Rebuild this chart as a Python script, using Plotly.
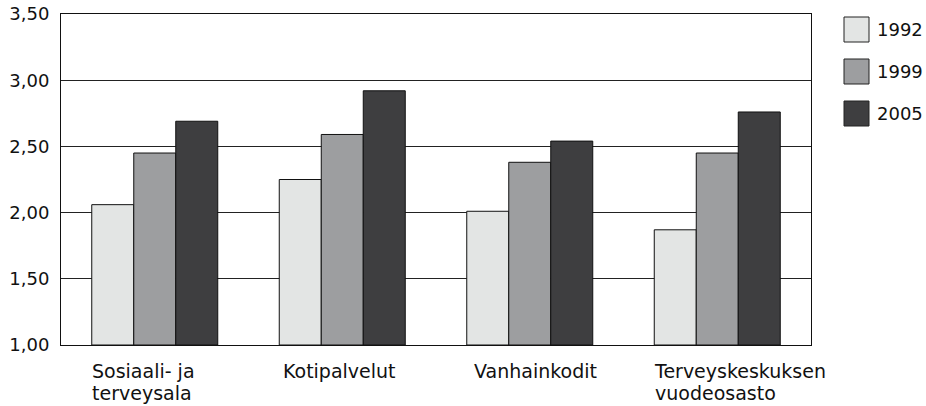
import plotly.graph_objects as go

# Categories, series and values
categories = ["Sosiaali- ja<br>terveysala", "Kotipalvelut", "Vanhainkodit", "Terveyskeskuksen<br>vuodeosasto"]
years = ["1992", "1999", "2005"]
values_1992 = [2.06, 2.25, 2.01, 1.87]
values_1999 = [2.45, 2.59, 2.38, 2.45]
values_2005 = [2.69, 2.92, 2.54, 2.76]
y_ticks = [1.0, 1.5, 2.0, 2.5, 3.0, 3.5]
y_tick_labels = ["1,00", "1,50", "2,00", "2,50", "3,00", "3,50"]

colors = ["#e3e5e4", "#9d9ea0", "#3e3e40"]
series = [values_1992, values_1999, values_2005]
font_family = "DejaVu Sans"
text_color = "#111111"
bargap = 0.328
# small horizontal pixel nudges for the category labels
label_nudges = [-2, 2, 5, -2]

fig = go.Figure()
x_idx = list(range(len(categories)))
for name, vals, col in zip(years, series, colors):
    fig.add_trace(go.Bar(
        x=x_idx, y=[v - 1.0 for v in vals], base=1.0, name=name,
        marker=dict(color=col, line=dict(color="#111111", width=1)),
        showlegend=False,
    ))

# Category labels, left-aligned under each bar group.
# The annotation font sets the (tighter) line spacing; the span sets glyph size.
group_half = (1 - bargap) / 2
for i, label in enumerate(categories):
    lines = label.split("<br>")
    text = "<br>".join(f"<span style='font-size:19px'>{ln}</span>" for ln in lines)
    fig.add_annotation(
        x=i - group_half, y=0, xref="x", yref="paper", yanchor="top",
        xanchor="left", align="left", text=text, showarrow=False,
        yshift=-13, xshift=label_nudges[i],
        font=dict(family=font_family, size=17.3, color=text_color),
    )

# Legend: large swatches with labels to the right of the plot
plot_w, plot_h = 750.0, 331.0
for k, (name, col) in enumerate(zip(years, colors)):
    y0 = 1 - (17 + 42 * k - 14) / plot_h
    y1 = y0 - 25 / plot_h
    fig.add_shape(type="rect", xref="paper", yref="paper",
                  x0=(844 - 61) / plot_w, x1=(869 - 61) / plot_w, y0=y1, y1=y0,
                  fillcolor=col, line=dict(color="#222222", width=1))
    fig.add_annotation(x=(875 - 61) / plot_w, y=(y0 + y1) / 2, xref="paper", yref="paper",
                       xanchor="left", yanchor="middle", text=name, showarrow=False,
                       font=dict(family=font_family, size=18, color=text_color))

fig.update_layout(
    width=926, height=406,
    margin=dict(l=61, r=115, t=14, b=61),
    paper_bgcolor="white", plot_bgcolor="white",
    barmode="group", bargap=bargap, bargroupgap=0,
    font=dict(family=font_family, size=18, color=text_color),
    xaxis=dict(range=[-0.5, len(categories) - 0.5], showticklabels=False,
               showgrid=False, zeroline=False, showline=True, linecolor="#111111",
               linewidth=1, mirror=True, ticks="", automargin=False),
    yaxis=dict(range=[1.0, 3.5], tickvals=y_ticks, ticktext=y_tick_labels,
               showgrid=True, gridcolor="#222222", gridwidth=1, zeroline=False,
               showline=True, linecolor="#111111", linewidth=1, mirror=True,
               ticks="", ticklabelstandoff=7, automargin=False,
               tickfont=dict(size=18)),
)

fig.write_html("out.html")
